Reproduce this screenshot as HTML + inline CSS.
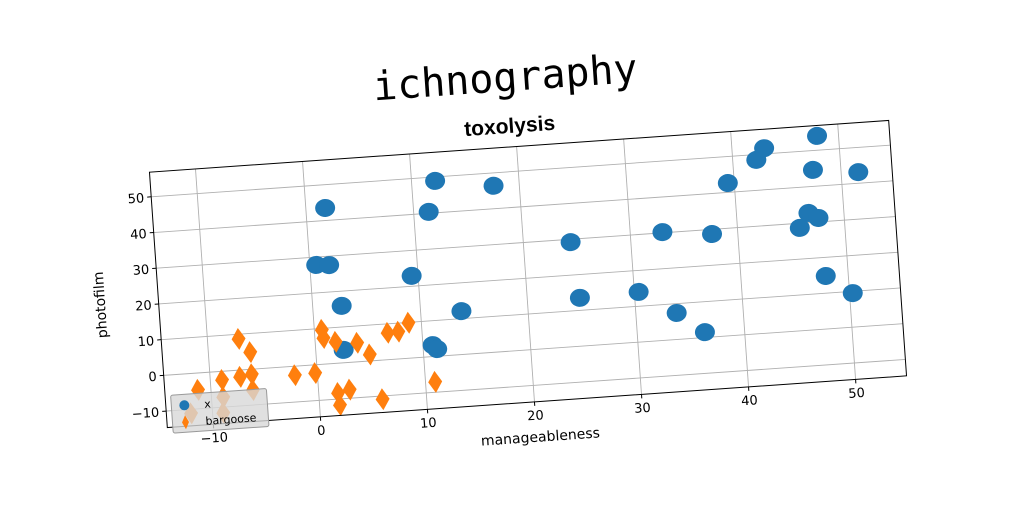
<!DOCTYPE html>
<html><head><meta charset="utf-8"><style>
html,body{margin:0;padding:0;background:#fff;}
svg{display:block;}
text{font-family:"DejaVu Sans","Liberation Sans",sans-serif;}
</style></head><body>
<svg id="chart" width="1024" height="512" viewBox="0 0 1024 512" xmlns="http://www.w3.org/2000/svg">
<g id="rot" transform="rotate(-4 528 274)">
<text x="519" y="90" text-anchor="middle" font-size="40" style="font-family:'DejaVu Sans Mono','Liberation Mono',monospace">ichnography</text>
<text x="520" y="132" text-anchor="middle" font-size="21" font-weight="bold" style="font-family:'Liberation Sans Narrow','Liberation Sans',sans-serif">toxolysis</text>
<g id="grid"></g>
<g id="ticks"></g>
<g id="marks"></g>
<rect x="157.5" y="146" width="741" height="256" fill="none" stroke="#000" stroke-width="1"/>
<text x="529" y="442" text-anchor="middle" font-size="14">manageableness</text>
<text transform="translate(104 275) rotate(-90)" text-anchor="middle" font-size="14">photofilm</text>
<g>
<rect x="163" y="370" width="96" height="38" fill="#d8d8d8" fill-opacity="0.8" stroke="#999" stroke-width="1" rx="2"/>
<circle cx="176" cy="381" r="5" fill="#1f77b4"/>
<text x="196" y="385" font-size="11">x</text>
<path d="M176 391 L179.5 398 L176 405 L172.5 398 Z" fill="#ff7f0e"/>
<text x="196" y="402" font-size="11">bargoose</text>
</g>
</g>
</svg>
<script>
const xTicks = [-10, 0, 10, 20, 30, 40, 50];
const yTicks = [-10, 0, 10, 20, 30, 40, 50];
const blueX = [1.8, 12.2, 11.4, 17.6, 0.6, 1.8, 9.4, 2.7, 13.8, 2.6, 10.9, 11.3, 24.4, 24.9, 30.4, 33.0, 33.8, 36.3, 37.6, 39.4, 42.2, 43.0, 48.0, 47.4, 51.6, 46.7, 47.6, 45.8, 47.9, 50.3];
const blueY = [43.5, 48.9, 40.4, 46.4, 27.8, 27.5, 22.9, 15.9, 12.1, 3.6, 3.2, 2.0, 29.2, 13.5, 14.0, 30.2, 7.4, 1.5, 28.7, 42.6, 48.5, 51.6, 54.0, 44.6, 43.1, 32.7, 31.1, 28.7, 14.8, 9.5];
const orangeX = [-7.1, -6.1, -7.2, -6.1, -8.9, -11.2, -8.9, -9.0, -6.1, -2.1, -0.2, 0.7, 0.8, 1.9, 3.9, 5.0, 6.8, 7.8, 8.8, 1.8, 1.9, 2.9, 5.9, 10.9, -12.0];
const orangeY = [8.7, 4.8, -1.9, -1.4, -2.4, -4.7, -7.2, -11.6, -5.8, -2.5, -2.3, 9.6, 7.3, 6.0, 5.3, 1.8, 7.5, 7.6, 9.9, -8.3, -11.7, -7.6, -10.9, -7.1, -11.1];

const L = 157.5, T = 146, W = 741, H = 256;
const xMin = -14.3, xMax = 54.76, yMin = -14.6, yMax = 56.9;
const sx = v => L + (v - xMin) / (xMax - xMin) * W;
const sy = v => T + H - (v - yMin) / (yMax - yMin) * H;
const NS = "http://www.w3.org/2000/svg";
const grid = document.getElementById('grid');
const ticks = document.getElementById('ticks');
const marks = document.getElementById('marks');
function mk(tag, attrs, parent) {
  const e = document.createElementNS(NS, tag);
  for (const k in attrs) e.setAttribute(k, attrs[k]);
  parent.appendChild(e);
  return e;
}
xTicks.forEach(v => {
  const x = sx(v);
  const g = mk('line', {x1: x, x2: x, y1: T, y2: T + H, stroke: '#b0b0b0', 'stroke-width': 0.9}, grid);
  
  
  const t = mk('line', {x1: x, x2: x, y1: T + H, y2: T + H + 4, stroke: '#000'}, ticks);
  
  
  const l = mk('text', {x: x, y: T + H + 18, 'text-anchor': 'middle', 'font-size': 13}, ticks);
  l.textContent = String(v).replace('-', '\u2212');
  
  
});
yTicks.forEach(v => {
  const y = sy(v);
  const g = mk('line', {x1: L, x2: L + W, y1: y, y2: y, stroke: '#b0b0b0', 'stroke-width': 0.9}, grid);
  
  
  const t = mk('line', {x1: L - 4, x2: L, y1: y, y2: y, stroke: '#000'}, ticks);
  
  
  const l = mk('text', {x: L - 7, y: y + 5, 'text-anchor': 'end', 'font-size': 13}, ticks);
  l.textContent = String(v).replace('-', '\u2212');
  
  
});
blueX.forEach((v, i) => {
  const c = mk('ellipse', {cx: sx(v), cy: sy(blueY[i]), rx: 10, ry: 9, fill: '#1f77b4'}, marks);
  
  
});
orangeX.forEach((v, i) => {
  const x = sx(v), y = sy(orangeY[i]);
  const p = mk('path', {d: `M${x} ${y-11} L${x+7} ${y} L${x} ${y+11} L${x-7} ${y} Z`, fill: '#ff7f0e'}, marks);
  
  
});
</script>
</body></html>
